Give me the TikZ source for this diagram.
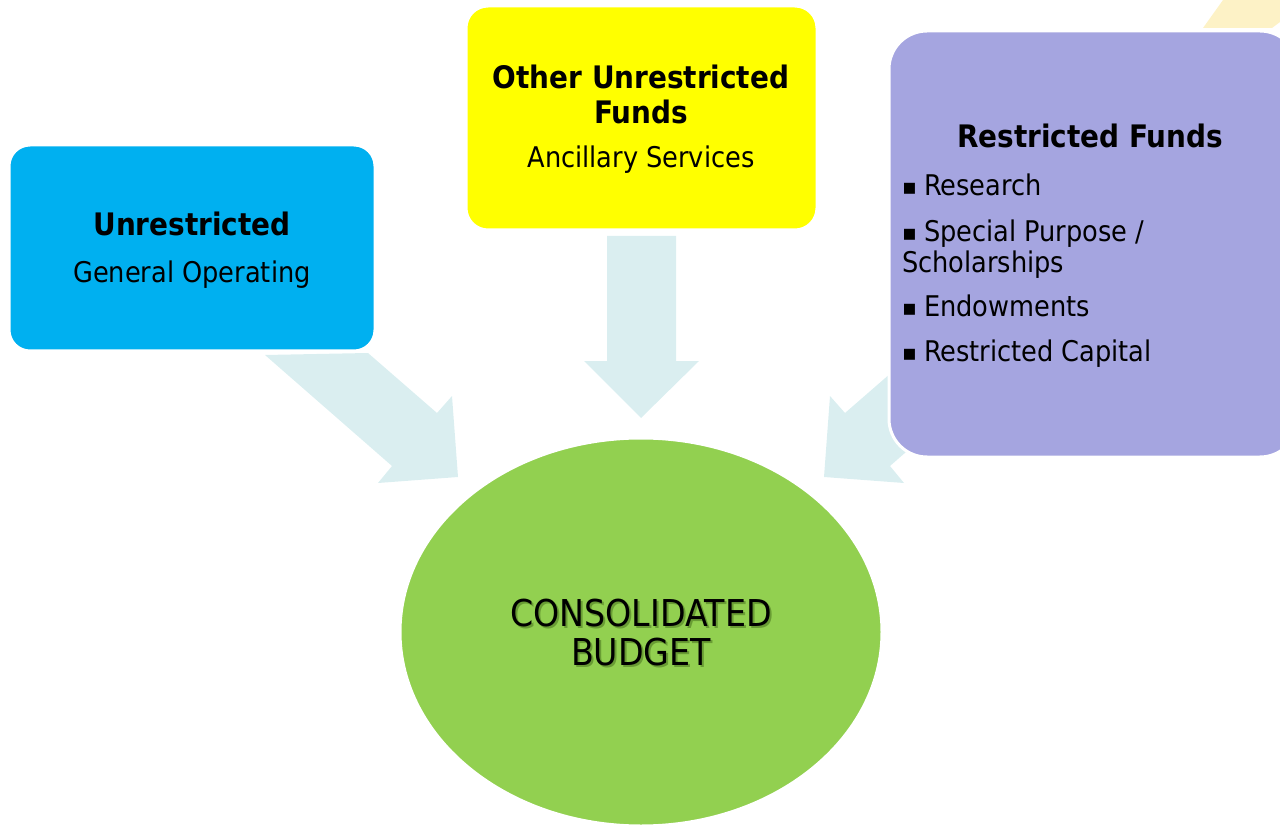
\documentclass[tikz,border=0pt]{standalone}
\usepackage{fontspec}
\setmainfont{DejaVu Sans Condensed}
\newfontfamily\bulletfont{DejaVu Sans}
\definecolor{boxblue}{HTML}{00B0F0}
\definecolor{boxyellow}{HTML}{FFFF00}
\definecolor{boxpurple}{HTML}{A5A5E0}
\definecolor{ellgreen}{HTML}{92D050}
\definecolor{arrowfill}{HTML}{DAEEF0}
\definecolor{glow}{HTML}{FDF2C6}
\definecolor{shadowgreen}{HTML}{4E7A22}
\newcommand{\sqbullet}{{\bulletfont\fontsize{22}{22}\selectfont\raisebox{1.5pt}{▪}}\hspace{7pt}}
\begin{document}
\begin{tikzpicture}[x=1pt,y=-1pt,
  fundbox/.style={draw=white,line width=3pt},
  blockarrow/.style={fill=arrowfill,draw=none},
  titletext/.style={anchor=base,inner sep=0pt,font=\fontsize{31}{35}\selectfont\bfseries},
  subtext/.style={anchor=base,inner sep=0pt,font=\fontsize{28.5}{33}\selectfont},
  itemtext/.style={anchor=base west,inner sep=0pt,font=\fontsize{28.5}{33}\selectfont},
  budgettext/.style={anchor=base,inner sep=0pt,font=\fontsize{37}{40}\selectfont}
]
\useasboundingbox (0,0) rectangle (1280,826);
\clip (0,0) rectangle (1280,826);
% faint glow top right
\fill[glow] (1203,28) -- (1223,0) -- (1280,0) -- (1280,22) -- (1272,28) -- cycle;
% block arrows
\fill[blockarrow] (607,236) -- (676,236) -- (676,361) -- (699,361) -- (641,418) -- (584,361) -- (607,361) -- cycle;
\fill[blockarrow] (265,355) -- (368,353) -- (437,413) -- (452,396) -- (458,477) -- (378,483) -- (392,466) -- cycle;
\fill[blockarrow] (1017,355) -- (914,353) -- (845,413) -- (830,396) -- (824,477) -- (904,483) -- (890,466) -- cycle;
% boxes
\path[fundbox,fill=boxblue,rounded corners=21pt] (9,145) rectangle (375,351);
\node[inner sep=0pt] (unres) at (192,248) {};
\path[fundbox,fill=boxyellow,rounded corners=22pt] (466,6) rectangle (817,230);
\node[inner sep=0pt] (other) at (641,118) {};
\path[fundbox,fill=boxpurple,rounded corners=38pt] (889,31) rectangle (1298,457);
\node[inner sep=0pt] (restr) at (1090,244) {};
% ellipse
\path[fundbox,fill=ellgreen] (641,632) ellipse [x radius=241, y radius=194];
\node[inner sep=0pt] (budget) at (641,632) {};
% texts
\node[titletext] (t1) at (192,236) {Unrestricted};
\node[subtext] (s1) at (192,283) {General Operating};
\node[titletext] (t2a) at (641,89) {Other Unrestricted};
\node[titletext] (t2b) at (641,124) {Funds};
\node[subtext] (s2) at (641,168) {Ancillary Services};
\node[titletext] (t3) at (1090,148) {Restricted Funds};
\node[itemtext] (i1) at (902,196) {\sqbullet Research};
\node[itemtext] (i2) at (902,242) {\sqbullet Special Purpose /};
\node[itemtext] (i2b) at (902,273) {Scholarships};
\node[itemtext] (i3) at (902,317) {\sqbullet Endowments};
\node[itemtext] (i4) at (902,362) {\sqbullet Restricted Capital};
\node[budgettext,text=shadowgreen,opacity=0.6] (b1s) at (643,628) {CONSOLIDATED};
\node[budgettext,text=shadowgreen,opacity=0.6] (b2s) at (643,667) {BUDGET};
\node[budgettext] (b1) at (641,626) {CONSOLIDATED};
\node[budgettext] (b2) at (641,665) {BUDGET};
\end{tikzpicture}
\end{document}
